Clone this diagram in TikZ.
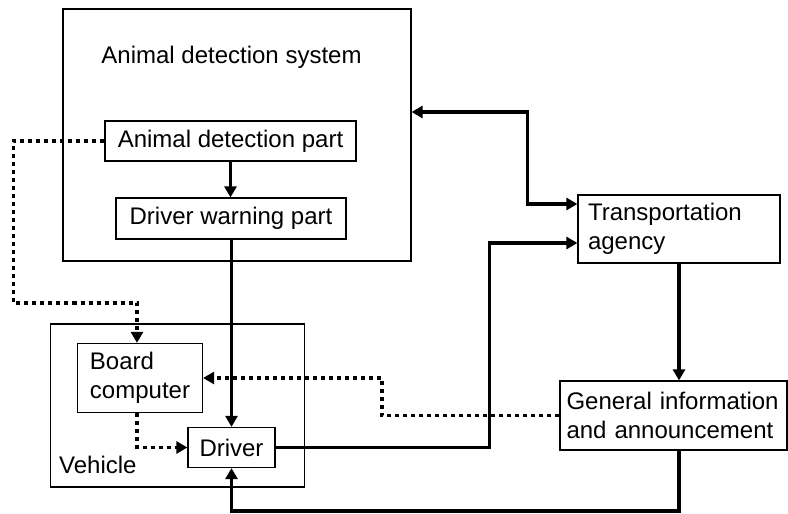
\documentclass[tikz,border=0pt]{standalone}
\usepackage{fontspec}
\setmainfont{Liberation Sans}
\usepackage{tikz}
\usetikzlibrary{positioning,calc,arrows.meta}
\newcommand{\diafont}{\fontsize{24}{29}\selectfont}
\tikzstyle{block} = [draw, rectangle, line width=1.2pt, inner sep=0pt, font=\diafont]
\tikzstyle{plaintext} = [inner sep=0pt, font=\diafont]
\tikzstyle{arrow} = [line width=3.8pt, -{Triangle[length=11pt,width=12pt]}]
\tikzstyle{bothways} = [line width=3.8pt, {Triangle[length=11pt,width=12pt]}-{Triangle[length=11pt,width=12pt]}]
\tikzstyle{dotarrow} = [arrow, dash pattern=on 4pt off 4pt]

\begin{document}
\begin{tikzpicture}[x=1pt, y=-1pt]
    \useasboundingbox (0,0) rectangle (788,514);
    % We start by placing the blocks
    \node [block, minimum width=348pt, minimum height=252pt] (ads) at (237,135) {};
    \node [plaintext, anchor=base] (adstitle) at (231.5,63) {Animal detection system};
    \node [block, minimum width=251pt, minimum height=40pt] (adp) at (230.5,141) {Animal detection part};
    \node [block, minimum width=230pt, minimum height=41pt] (dwp) at (231,218.5) {Driver warning part};
    \node [block, minimum width=254pt, minimum height=163pt] (veh) at (177.5,405.5) {};
    \node [plaintext, anchor=base west] (vehtitle) at (59,473) {Vehicle};
    \node [block, align=left, minimum width=125pt, minimum height=69pt] (bc) at (140,378) {Board\\computer};
    \node [block, minimum width=87pt, minimum height=40pt] (drv) at (231.5,447.5) {Driver};
    \node [block, align=left, text width=182pt, inner xsep=10pt, minimum height=68pt] (ta) at (679,229) {Transportation\\agency};
    \node [block, align=left, text width=214pt, inner xsep=6.5pt, minimum height=69pt] (gia) at (673.5,415.5) {\mbox{General information}\\\mbox{and announcement}};
    % solid connectors
    \draw [arrow] (adp.south) -- (adp.south |- dwp.north);
    \draw [arrow] (dwp.south -| drv.north) -- (drv.north);
    \draw [bothways] ([yshift=23pt]ads.east) -| ([xshift=-50pt,yshift=25pt]ta.west) -- ([yshift=25pt]ta.west);
    \draw [arrow] (drv.east) -| ([xshift=-88pt,yshift=-14pt]ta.west) -- ([yshift=-14pt]ta.west);
    \draw [arrow] (ta.south) -- (ta.south |- gia.north);
    \draw [arrow] (ta.south |- gia.south) -- ++(0,60) -| (drv.south);
    % dotted connectors
    \draw [dotarrow] (adp.west) -- ++(-91,0) |- ([xshift=-3pt,yshift=40pt]bc.north) -- ([xshift=-3pt]bc.north);
    \draw [dotarrow] (gia.west) -| ([xshift=179pt]bc.east) -- (bc.east);
    \draw [dotarrow] ([xshift=-3pt]bc.south) |- (drv.west);
\end{tikzpicture}
\end{document}
